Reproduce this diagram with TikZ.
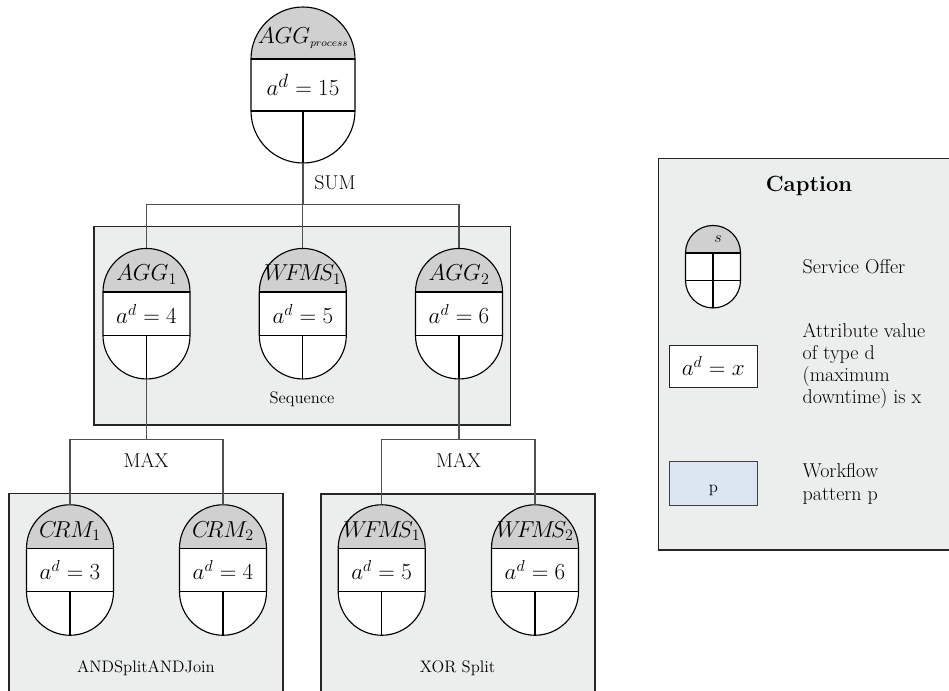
\documentclass[tikz,border=0pt]{standalone}
\usepackage{amsmath}
\definecolor{boxgray}{HTML}{ECEDED}
\definecolor{domegray}{HTML}{D0D0D0}
\definecolor{keyblue}{HTML}{DCE6F2}
\definecolor{linkgray}{HTML}{505050}
\tikzset{
  patternbox/.style={draw=black!85, fill=boxgray, line width=0.85pt},
  link/.style={draw=linkgray, line width=0.85pt},
  patlabel/.style={font=\fontsize{12.5}{15}\selectfont},
  oplabel/.style={font=\fontsize{15}{18}\selectfont},
  keytext/.style={font=\fontsize{15}{16.7}\selectfont, align=left, anchor=west},
  % service offer: #1 radius, #2 name, #3 value, #4 value font
  pics/offer/.style n args={4}{code={
    \fill[white] (-#1,#1/2) -- (-#1,-#1/2) arc[start angle=180,end angle=360,radius=#1] -- (#1,#1/2) -- cycle;
    \fill[domegray] (-#1,#1/2) arc[start angle=180,end angle=0,radius=#1] -- cycle;
    \draw[line width=0.85pt] (-#1,-#1/2) -- (-#1,#1/2) arc[start angle=180,end angle=0,radius=#1]
      -- (#1,-#1/2) arc[start angle=0,end angle=-180,radius=#1] -- cycle;
    \draw[line width=0.85pt] (-#1,#1/2) -- (#1,#1/2) (-#1,-#1/2) -- (#1,-#1/2) (0,-#1/2) -- (0,-1.5*#1);
    \node[font=\fontsize{17}{20}\selectfont, inner sep=0pt] (-name) at (0,0.9*#1) {$#2$};
    \node[font=#4, inner sep=0pt] (-value) at (0,0) {$a^{d}=#3$};
    \coordinate (-top) at (0,1.5*#1);
    \coordinate (-bot) at (0,-1.5*#1);
  }},
  % small service offer symbol used in the key
  pics/offerkey/.style n args={2}{code={
    \fill[white] (-#1,#1/2) -- (-#1,-#1/2) arc[start angle=180,end angle=360,radius=#1] -- (#1,#1/2) -- cycle;
    \fill[domegray] (-#1,#1/2) arc[start angle=180,end angle=0,radius=#1] -- cycle;
    \draw[line width=0.85pt] (-#1,-#1/2) -- (-#1,#1/2) arc[start angle=180,end angle=0,radius=#1]
      -- (#1,-#1/2) arc[start angle=0,end angle=-180,radius=#1] -- cycle;
    \draw[line width=0.85pt] (-#1,#1/2) -- (#1,#1/2) (-#1,-#1/2) -- (#1,-#1/2) (0,#1/2) -- (0,-1.5*#1);
    \node[font=\fontsize{13}{15}\selectfont, inner sep=0pt] (-name) at (0.18*#1,1.0*#1) {$#2$};
  }}
}
\begin{document}
\begin{tikzpicture}[x=0.75pt, y=0.75pt]
  \useasboundingbox (0,0) rectangle (949,-690);
  \clip (0,0) rectangle (949,-690);

  % workflow pattern boxes (open towards the bottom edge)
  \draw[patternbox] (94,-226.7) rectangle (510.7,-425);
  \draw[patternbox] (9,-720) -- (9,-493.5) -- (283,-493.5) -- (283,-720);
  \draw[patternbox] (321,-720) -- (321,-494) -- (595,-494) -- (595,-720);
  \node[patlabel] (seq) at (302,-399) {Sequence};
  \node[patlabel] (andsj) at (146,-668) {ANDSplitANDJoin};
  \node[patlabel] (xors) at (457.5,-668) {XOR Split};

  % service offers
  \pic (P)  at (303,-85)    {offer={52}{AGG_{\scriptscriptstyle process}}{15}{\fontsize{19}{22}\selectfont}};
  \pic (A1) at (146.5,-313.7) {offer={43.5}{AGG_{1}}{4}{\fontsize{16.5}{19}\selectfont}};
  \pic (W0) at (302.8,-313.7) {offer={43.5}{W\!F\!M\!S_{1}}{5}{\fontsize{16.5}{19}\selectfont}};
  \pic (A2) at (459,-313.7) {offer={43.5}{AGG_{2}}{6}{\fontsize{16.5}{19}\selectfont}};
  \pic (C1) at (70,-570)    {offer={43.5}{C\!RM_{1}}{3}{\fontsize{16.5}{19}\selectfont}};
  \pic (C2) at (223,-570)   {offer={43.5}{C\!RM_{2}}{4}{\fontsize{16.5}{19}\selectfont}};
  \pic (W1) at (381.7,-570) {offer={43.5}{W\!F\!M\!S_{1}}{5}{\fontsize{16.5}{19}\selectfont}};
  \pic (W2) at (535,-570)   {offer={43.5}{W\!F\!M\!S_{2}}{6}{\fontsize{16.5}{19}\selectfont}};

  % aggregation connectors
  \coordinate (sumbar) at (303,-204.3);
  \coordinate (maxbarL) at (146.5,-439.5);
  \coordinate (maxbarR) at (459,-439.5);
  \draw[link] (P-bot) -- (P-bot |- sumbar);
  \draw[link] (A1-top) |- (sumbar) -| (A2-top);
  \draw[link] (W0-top) -- (W0-top |- sumbar);
  \draw[link] (A1-bot) -- (maxbarL);
  \draw[link] (C1-top) |- (maxbarL) -| (C2-top);
  \draw[link] (A2-bot) -- (maxbarR);
  \draw[link] (W1-top) |- (maxbarR) -| (W2-top);
  \node[oplabel] (sum) at (335,-183) {SUM};
  \node[oplabel] (maxl) at (146,-460) {MAX};
  \node[oplabel] (maxr) at (458.5,-460) {MAX};

  % key
  \draw[patternbox] (980,-158.3) -- (658.3,-158.3) -- (658.3,-550) -- (980,-550);
  \node[font=\fontsize{16.5}{19}\bfseries] (captitle) at (809,-186) {Caption};
  \pic (K) at (713,-266.7) {offerkey={27.5}{s}};
  \node[keytext] (kt1) at (798,-266.7) {Service Offer};
  \node[draw=black!85, fill=white, line width=0.85pt, minimum width=66pt, minimum height=31.5pt,
        font=\fontsize{16.5}{19}\selectfont] (kval) at (713.3,-366.2) {$a^{d}=x$};
  \node[keytext] (kt2) at (798,-366) {Attribute value\\of type d\\(maximum\\downtime) is x};
  \node[draw=black!75, fill=keyblue, line width=0.85pt, minimum width=66pt, minimum height=33pt,
        inner sep=0pt] (kpat) at (713.3,-483.8) {};
  \node[patlabel] (kp) at (713.3,-490) {p};
  \node[keytext] (kt3) at (798,-484) {Workflow\\pattern p};
\end{tikzpicture}
\end{document}
